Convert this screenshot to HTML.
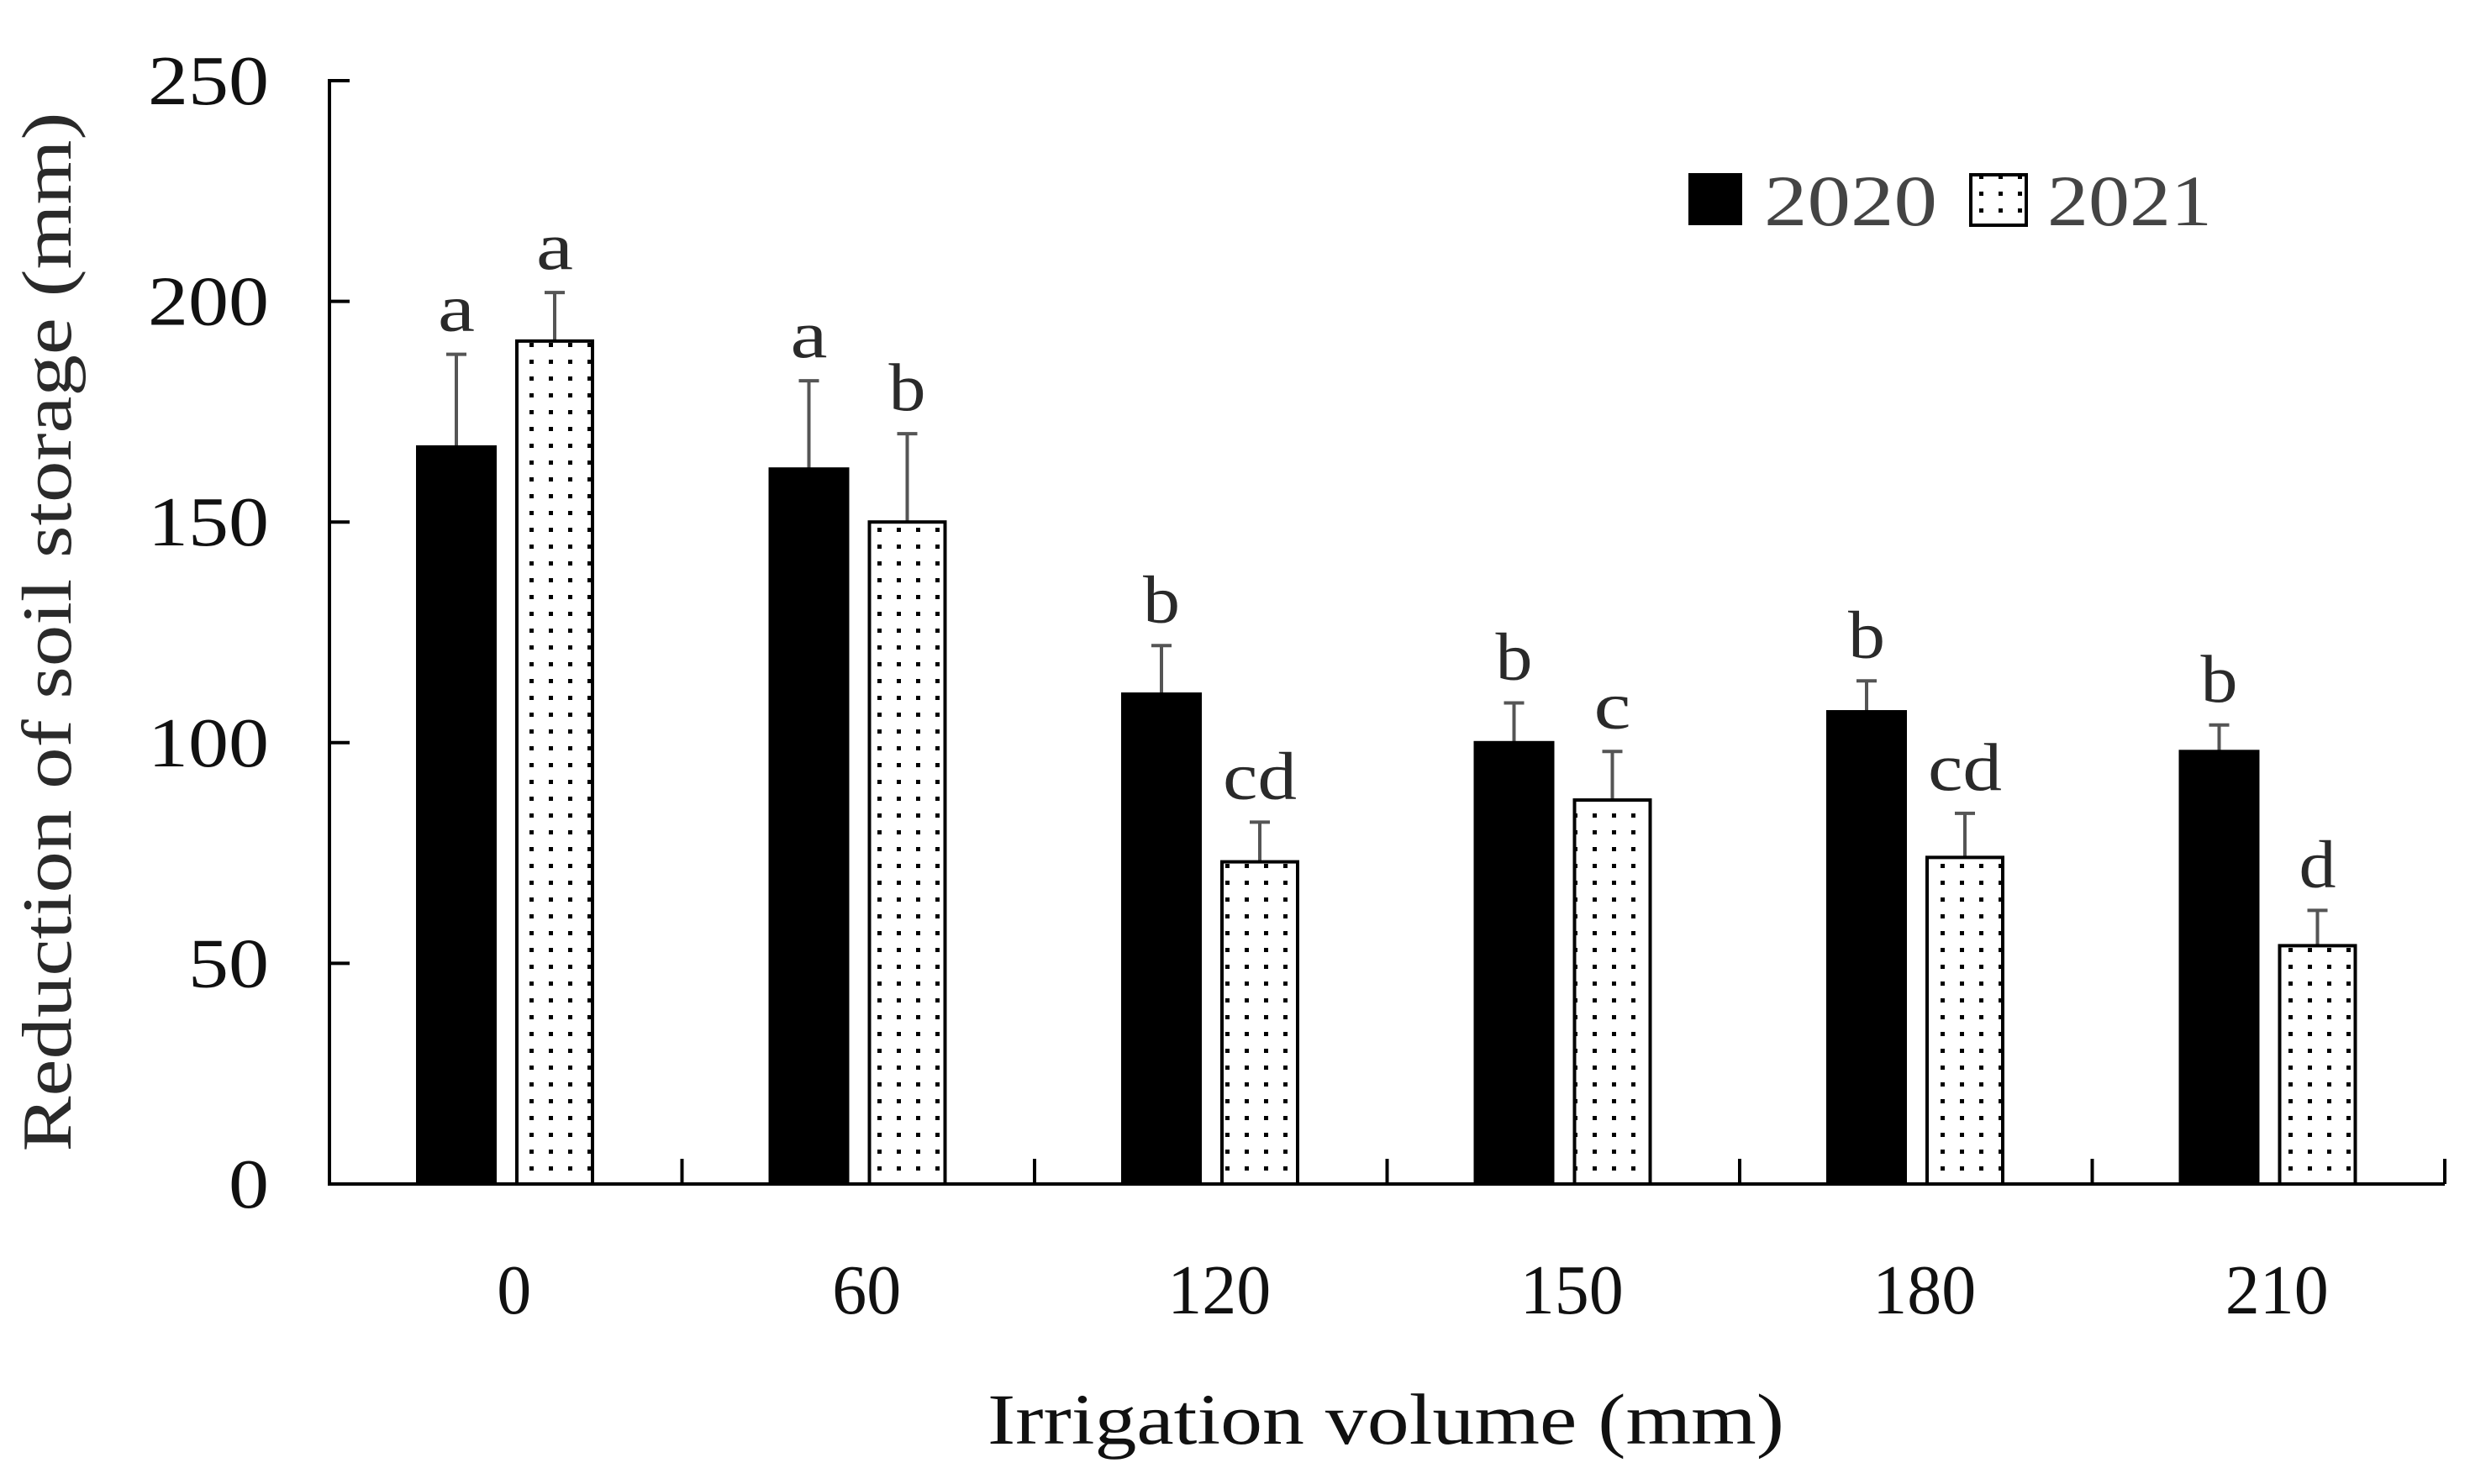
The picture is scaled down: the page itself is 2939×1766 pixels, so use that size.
<!DOCTYPE html>
<html><head><meta charset="utf-8"><style>
html,body{margin:0;padding:0;background:#fff;}
svg{display:block;font-family:"Liberation Serif",serif;}
</style></head><body>
<svg id="chart" width="2939" height="1766" viewBox="0 0 2939 1766" xmlns="http://www.w3.org/2000/svg">
<defs>
<pattern id="dots" width="23" height="20" patternUnits="userSpaceOnUse">
<rect width="23" height="20" fill="#fff"/>
<rect x="9" y="8" width="5" height="5" fill="#000"/>
</pattern>
</defs>
<g id="plot"></g>
<text transform="translate(84,752) rotate(-90)" text-anchor="middle" font-size="84" fill="#2a2a2a" textLength="1237" lengthAdjust="spacingAndGlyphs">Reduction of soil storage (mm)</text>
<text x="1649" y="1718" text-anchor="middle" font-size="86" fill="#111" textLength="948" lengthAdjust="spacingAndGlyphs">Irrigation volume (mm)</text>
<g>
<rect x="2009" y="206" width="64" height="62" fill="#000"/>
<text x="2099" y="268" font-size="86" fill="#444" textLength="206" lengthAdjust="spacingAndGlyphs">2020</text>
<rect x="2345" y="208" width="66" height="60" fill="url(#dots)" stroke="#000" stroke-width="4"/>
<text x="2436" y="268" font-size="86" fill="#444" textLength="196" lengthAdjust="spacingAndGlyphs">2021</text>
</g>
</svg>
<script>
const categories = ["0","60","120","150","180","210"];
const values2020 = [167,162,111,100,107,98];
const err2020 = [188,182,122,109,114,104];
const values2021 = [191,150,73,87,74,54];
const err2021 = [202,170,82,98,84,62];
const letters2020 = ["a","a","b","b","b","b"];
const letters2021 = ["a","b","cd","c","cd","d"];
const yTicks = [0,50,100,150,200,250];

const NS="http://www.w3.org/2000/svg";
const g=document.getElementById('plot');
const X0=392,X1=2909,Y0=1409,YTOP=96,YMAX=250;
const groupW=(X1-X0)/categories.length;
const y=v=>Y0-(v/YMAX)*(Y0-YTOP);
const gx=i=>X0+i*groupW;
function el(t,a){const e=document.createElementNS(NS,t);for(const k in a)e.setAttribute(k,a[k]);g.appendChild(e);return e;}

yTicks.forEach(t=>{
  const l=el('line',{x1:X0,x2:X0+24,y1:y(t),y2:y(t),stroke:'#000','stroke-width':4});
  
  
  const s=String(t);
  const tx=el('text',{x:320,y:y(t)+28,'text-anchor':'end','font-size':84,fill:'#111',textLength:48*s.length,lengthAdjust:'spacingAndGlyphs'});
  tx.textContent=s;
  
  
});
categories.forEach((c,i)=>{
  const tk=el('line',{x1:gx(i+1),x2:gx(i+1),y1:Y0,y2:Y0-30,stroke:'#000','stroke-width':4});
  
  
  const tx=el('text',{x:gx(i)+groupW/2+10,y:1563,'text-anchor':'middle','font-size':84,fill:'#111',textLength:41*c.length,lengthAdjust:'spacingAndGlyphs'});
  tx.textContent=c;
  
  
  const series=[[values2020,err2020,letters2020,105,'#000'],[values2021,err2021,letters2021,223,'url(#dots)']];
  series.forEach((s,k)=>{
    const bx=gx(i)+s[3],bw=k?90:92,cx=bx+bw/2;
    const eb=el('line',{x1:cx,x2:cx,y1:y(s[1][i]),y2:y(s[0][i]),stroke:'#555','stroke-width':4});
    
    
    const cap=el('line',{x1:cx-12,x2:cx+12,y1:y(s[1][i]),y2:y(s[1][i]),stroke:'#555','stroke-width':4});
    
    
    const r=el('rect',{x:bx,y:y(s[0][i]),width:bw,height:Y0-y(s[0][i]),fill:s[4],stroke:'#000','stroke-width':4});
    
    
    const L=s[2][i];
    const lt=el('text',{x:cx,y:y(s[1][i])-28,'text-anchor':'middle','font-size':80,fill:'#2a2a2a',textLength:44*L.length,lengthAdjust:'spacingAndGlyphs'});
    lt.textContent=L;
    
    
  });
});
const ya=el('polyline',{points:`${X0+24},${YTOP} ${X0},${YTOP} ${X0},${Y0} ${X1},${Y0}`,fill:'none',stroke:'#000','stroke-width':4});


</script>
</body></html>
